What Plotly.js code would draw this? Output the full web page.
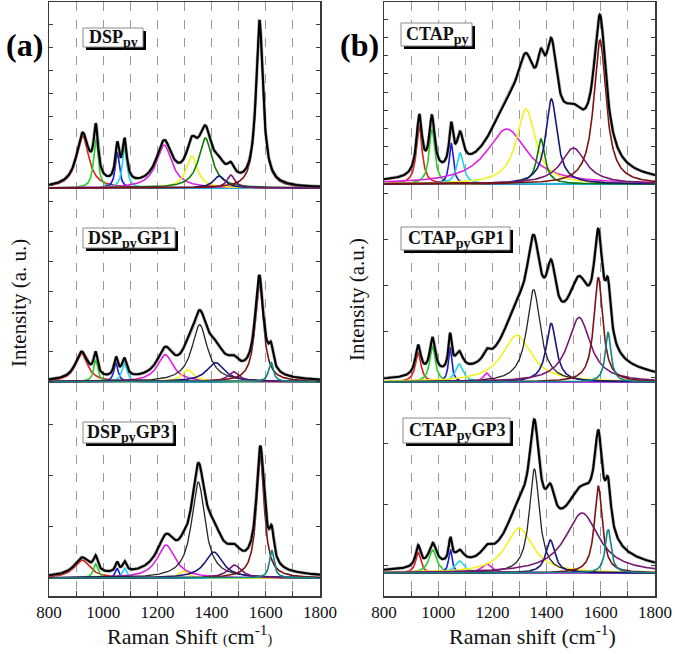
<!DOCTYPE html>
<html>
<head>
<meta charset="utf-8">
<script src="https://cdn.plot.ly/plotly-3.0.1.min.js"></script>
<style>html,body{margin:0;padding:0;background:#fff;}#chart{width:675px;height:654px;}</style>
</head>
<body>
<div id="chart"></div>
<script>
// ---- Data: Lorentzian fit components (centre cm-1, height a.u., FWHM cm-1) ----
const dspPyComp    = ['red','green','blue','cyan','magenta','yellow','dkgreen','navy','purple','maroon'];
const dspPyCenter  = [924, 973, 1052, 1079, 1225, 1327, 1377, 1428, 1471, 1577];
const dspPyHeight  = [52, 50, 36, 41, 43, 32, 50, 12, 13, 165];
const dspPyFwhm    = [55, 20, 18, 20, 70, 50, 60, 50, 35, 31];

const dspGP1Comp   = ['red','green','blue','cyan','magenta','yellow','black','navy','purple','maroon','teal'];
const dspGP1Center = [920, 972, 1047, 1078, 1229, 1312, 1356, 1415, 1481, 1576, 1619];
const dspGP1Height = [28, 22, 19, 18, 27, 12, 57, 19, 10, 100, 20];
const dspGP1Fwhm   = [55, 18, 18, 22, 70, 50, 70, 80, 50, 37, 20];

const dspGP3Comp   = ['red','green','blue','cyan','magenta','yellow','black','navy','purple','maroon','teal'];
const dspGP3Center = [922, 972, 1051, 1079, 1232, 1296, 1351, 1408, 1484, 1580, 1622];
const dspGP3Height = [18, 14, 10, 10, 33, 7, 96, 26, 13, 122, 28];
const dspGP3Fwhm   = [70, 20, 15, 18, 80, 40, 60, 80, 60, 35, 20];

const ctapPyComp   = ['red','green','blue','cyan','magenta','yellow','dkgreen','navy','purple','maroon'];
const ctapPyCenter = [930, 977, 1048, 1081, 1253, 1324, 1379, 1418, 1499, 1597];
const ctapPyHeight = [59, 55, 41, 31, 55, 75, 45, 85, 36, 144];
const ctapPyFwhm   = [25, 25, 18, 30, 180, 85, 36, 50, 110, 55];

const ctapGP1Comp   = ['red','green','blue','cyan','magenta','yellow','black','navy','purple','maroon','teal'];
const ctapGP1Center = [926, 979, 1044, 1077, 1179, 1290, 1352, 1417, 1520, 1591, 1627];
const ctapGP1Height = [30, 36, 35, 18, 9, 47, 93, 59, 65, 105, 50];
const ctapGP1Fwhm   = [25, 25, 15, 35, 30, 130, 60, 45, 100, 40, 25];

const ctapGP3Comp   = ['red','green','blue','cyan','magenta','yellow','black','navy','purple','maroon','teal'];
const ctapGP3Center = [926, 980, 1045, 1079, 1179, 1299, 1355, 1414, 1531, 1591, 1627];
const ctapGP3Height = [21, 23, 24, 12, 9, 45, 104, 33, 60, 87, 44];
const ctapGP3Fwhm   = [22, 35, 15, 40, 45, 120, 45, 40, 150, 35, 25];

// broad fit baseline (included in the cumulative fit, not drawn separately)
const baseCenter = [1450, 1450, 1450, 1480, 1470, 1470];
const baseHeight = [0, 3, 6, 15, 26, 16];
const baseFwhm   = [400, 400, 400, 300, 350, 400];

const sampleNames = ['DSP', 'DSP', 'DSP', 'CTAP', 'CTAP', 'CTAP'];
const sampleSubs  = ['py', 'py', 'py', 'py', 'py', 'py'];
const sampleTails = ['', 'GP1', 'GP3', '', 'GP1', 'GP3'];

// ---- Styles ----
const palette = {
  red:'#e31e1e', green:'#26d026', blue:'#1c1cd6', cyan:'#22d6ea', magenta:'#e01ee0',
  yellow:'#f2f21c', dkgreen:'#0b7a0b', black:'#262626', navy:'#17177c', purple:'#761876',
  maroon:'#7c1212', teal:'#0f8585'
};

const panels = [
  {xa:'x',  ya:'y',  comp:dspPyComp,  c:dspPyCenter,  h:dspPyHeight,  w:dspPyFwhm,  yr:[-3,186],  t0:3, dt:22.9},
  {xa:'x2', ya:'y2', comp:dspGP1Comp, c:dspGP1Center, h:dspGP1Height, w:dspGP1Fwhm, yr:[-1.3,190.7], t0:0, dt:30},
  {xa:'x3', ya:'y3', comp:dspGP3Comp, c:dspGP3Center, h:dspGP3Height, w:dspGP3Fwhm, yr:[-18,195], t0:1, dt:51},
  {xa:'x4', ya:'y4', comp:ctapPyComp, c:ctapPyCenter, h:ctapPyHeight, w:ctapPyFwhm, yr:[-7,182],  t0:1, dt:18.2},
  {xa:'x5', ya:'y5', comp:ctapGP1Comp,c:ctapGP1Center,h:ctapGP1Height,w:ctapGP1Fwhm,yr:[-1,192],  t0:5, dt:46},
  {xa:'x6', ya:'y6', comp:ctapGP3Comp,c:ctapGP3Center,h:ctapGP3Height,w:ctapGP3Fwhm,yr:[-23,190], t0:8, dt:61}
];

function lor(x, c, h, fwhm) { const g = fwhm / 2; return h * g * g / ((x - c) * (x - c) + g * g); }

const xs = [];
for (let v = 800; v <= 1800; v += 2) xs.push(v);

const traces = [];
panels.forEach((p, pi) => {
  const total = xs.map(x => lor(x, baseCenter[pi], baseHeight[pi], baseFwhm[pi]));
  p.c.forEach((c, i) => {
    const ys = xs.map(x => lor(x, c, p.h[i], p.w[i]));
    ys.forEach((v, k) => total[k] += v);
    traces.push({x: xs, y: ys, xaxis: p.xa, yaxis: p.ya, mode: 'lines',
      line: {color: palette[p.comp[i]], width: p.comp[i] === 'black' ? 1.3 : 1.6}, hoverinfo: 'skip'});
  });
  traces.push({x: xs, y: total, xaxis: p.xa, yaxis: p.ya, mode: 'lines',
    line: {color: '#7a7a7a', width: 3.4}, opacity: 0.55, hoverinfo: 'skip'});
  traces.push({x: xs, y: total, xaxis: p.xa, yaxis: p.ya, mode: 'lines',
    line: {color: '#000', width: 2.1}, hoverinfo: 'skip'});
});

// ---- Layout ----
const L = 49, T = 2, PW = 606, PH = 594;
const px = v => (v - L) / PW;
const py = v => (T + PH - v) / PH;
const colDom = [[0, px(320)], [px(384), 1]];
const rowDom = [[py(191), 1], [py(383), py(191)], [0, py(383)]];
const fontSerif = 'Liberation Serif, DejaVu Serif, serif';
const axCol = '#3a3a3a';
const gridCol = '#9a9a9a';

const layout = {
  width: 675, height: 654,
  margin: {l: L, r: 675 - L - PW, t: T, b: 654 - T - PH},
  paper_bgcolor: '#fff', plot_bgcolor: '#fff', showlegend: false,
  font: {family: fontSerif, color: '#111'},
  annotations: [], shapes: []
};

panels.forEach((p, i) => {
  const col = i < 3 ? 0 : 1, row = i % 3;
  const xk = 'xaxis' + (i === 0 ? '' : i + 1), yk = 'yaxis' + (i === 0 ? '' : i + 1);
  const xa = {
    domain: colDom[col], anchor: p.ya, range: [800, 1800], tick0: 800, dtick: 200,
    showgrid: true, gridcolor: gridCol, griddash: 'dash', gridwidth: 1, zeroline: false,
    showticklabels: false, ticks: '', showline: false, fixedrange: true,
    minor: {dtick: 100, showgrid: true, gridcolor: gridCol, griddash: 'dash', gridwidth: 1, ticks: ''}
  };
  if (row === 0) { xa.showline = true; xa.side = 'top'; xa.linecolor = axCol; xa.linewidth = 1.5; }
  if (row === 2) {
    Object.assign(xa, {showline: true, linecolor: axCol, linewidth: 1.5, ticks: 'inside', ticklen: 5,
      tickcolor: axCol, tickwidth: 1, showticklabels: true,
      tickfont: {family: fontSerif, size: 17, color: '#111'}});
    xa.minor.ticks = 'inside'; xa.minor.ticklen = 5; xa.minor.tickcolor = axCol; xa.minor.tickwidth = 1;
  }
  layout[xk] = xa;
  layout[yk] = {
    domain: rowDom[row], anchor: p.xa, range: p.yr, showgrid: false, zeroline: false,
    showline: true, mirror: 'ticks', linecolor: axCol, linewidth: 1.5,
    ticks: 'inside', ticklen: 4, tickcolor: axCol, tick0: p.t0, dtick: p.dt,
    showticklabels: false, fixedrange: true
  };
});

// sample labels: white box with grey border and a black drop shadow
const labelBox = [[83, 28, 143, 47], [83, 228, 175, 248], [83, 422, 173, 443],
                  [401, 23, 472, 46], [401, 227, 510, 250], [403, 418, 510, 443]];
sampleNames.forEach((name, i) => {
  const [x0, y0, x1, y1] = labelBox[i];
  layout.shapes.push({type: 'rect', xref: 'paper', yref: 'paper',
    x0: px(x0 + 3), x1: px(x1 + 3), y0: py(y0 + 3), y1: py(y1 + 3),
    fillcolor: '#000', line: {width: 0}, layer: 'above'});
  layout.shapes.push({type: 'rect', xref: 'paper', yref: 'paper',
    x0: px(x0), x1: px(x1), y0: py(y0), y1: py(y1),
    fillcolor: '#fff', line: {color: '#8a8a8a', width: 1}, layer: 'above'});
  layout.annotations.push({
    text: name + '<sub><span style="font-size:14px">' + sampleSubs[i] + '</span></sub>' + sampleTails[i],
    xref: 'paper', yref: 'paper', x: px((x0 + x1) / 2), y: py((y0 + y1) / 2 + 1),
    xanchor: 'center', yanchor: 'middle', showarrow: false,
    font: {family: fontSerif, size: 18, color: '#111', weight: 'bold'}});
});

layout.annotations.push(
  {text: '(a)', xref: 'paper', yref: 'paper', x: px(24), y: py(45), xanchor: 'center', yanchor: 'middle',
   showarrow: false, font: {family: fontSerif, size: 32, color: '#000', weight: 'bold'}},
  {text: '(b)', xref: 'paper', yref: 'paper', x: px(359), y: py(45), xanchor: 'center', yanchor: 'middle',
   showarrow: false, font: {family: fontSerif, size: 32, color: '#000', weight: 'bold'}},
  {text: 'Intensity (a. u.)', xref: 'paper', yref: 'paper', x: px(19), y: py(303), textangle: -90,
   xanchor: 'center', yanchor: 'middle', showarrow: false, font: {family: fontSerif, size: 21, color: '#111'}},
  {text: 'Intensity (a.u.)', xref: 'paper', yref: 'paper', x: px(357), y: py(300), textangle: -90,
   xanchor: 'center', yanchor: 'middle', showarrow: false, font: {family: fontSerif, size: 21, color: '#111'}},
  {text: 'Raman Shift <span style="font-size:14px">(</span>cm<sup>-1</sup><span style="font-size:14px">)</span>',
   xref: 'paper', yref: 'paper', x: px(190), y: py(635), xanchor: 'center', yanchor: 'middle', showarrow: false,
   font: {family: fontSerif, size: 22, color: '#111'}},
  {text: 'Raman shift (cm<sup>-1</sup>)', xref: 'paper', yref: 'paper', x: px(532), y: py(635),
   xanchor: 'center', yanchor: 'middle', showarrow: false, font: {family: fontSerif, size: 22, color: '#111'}}
);

Plotly.newPlot('chart', traces, layout, {staticPlot: true, displayModeBar: false});
</script>
</body>
</html>
